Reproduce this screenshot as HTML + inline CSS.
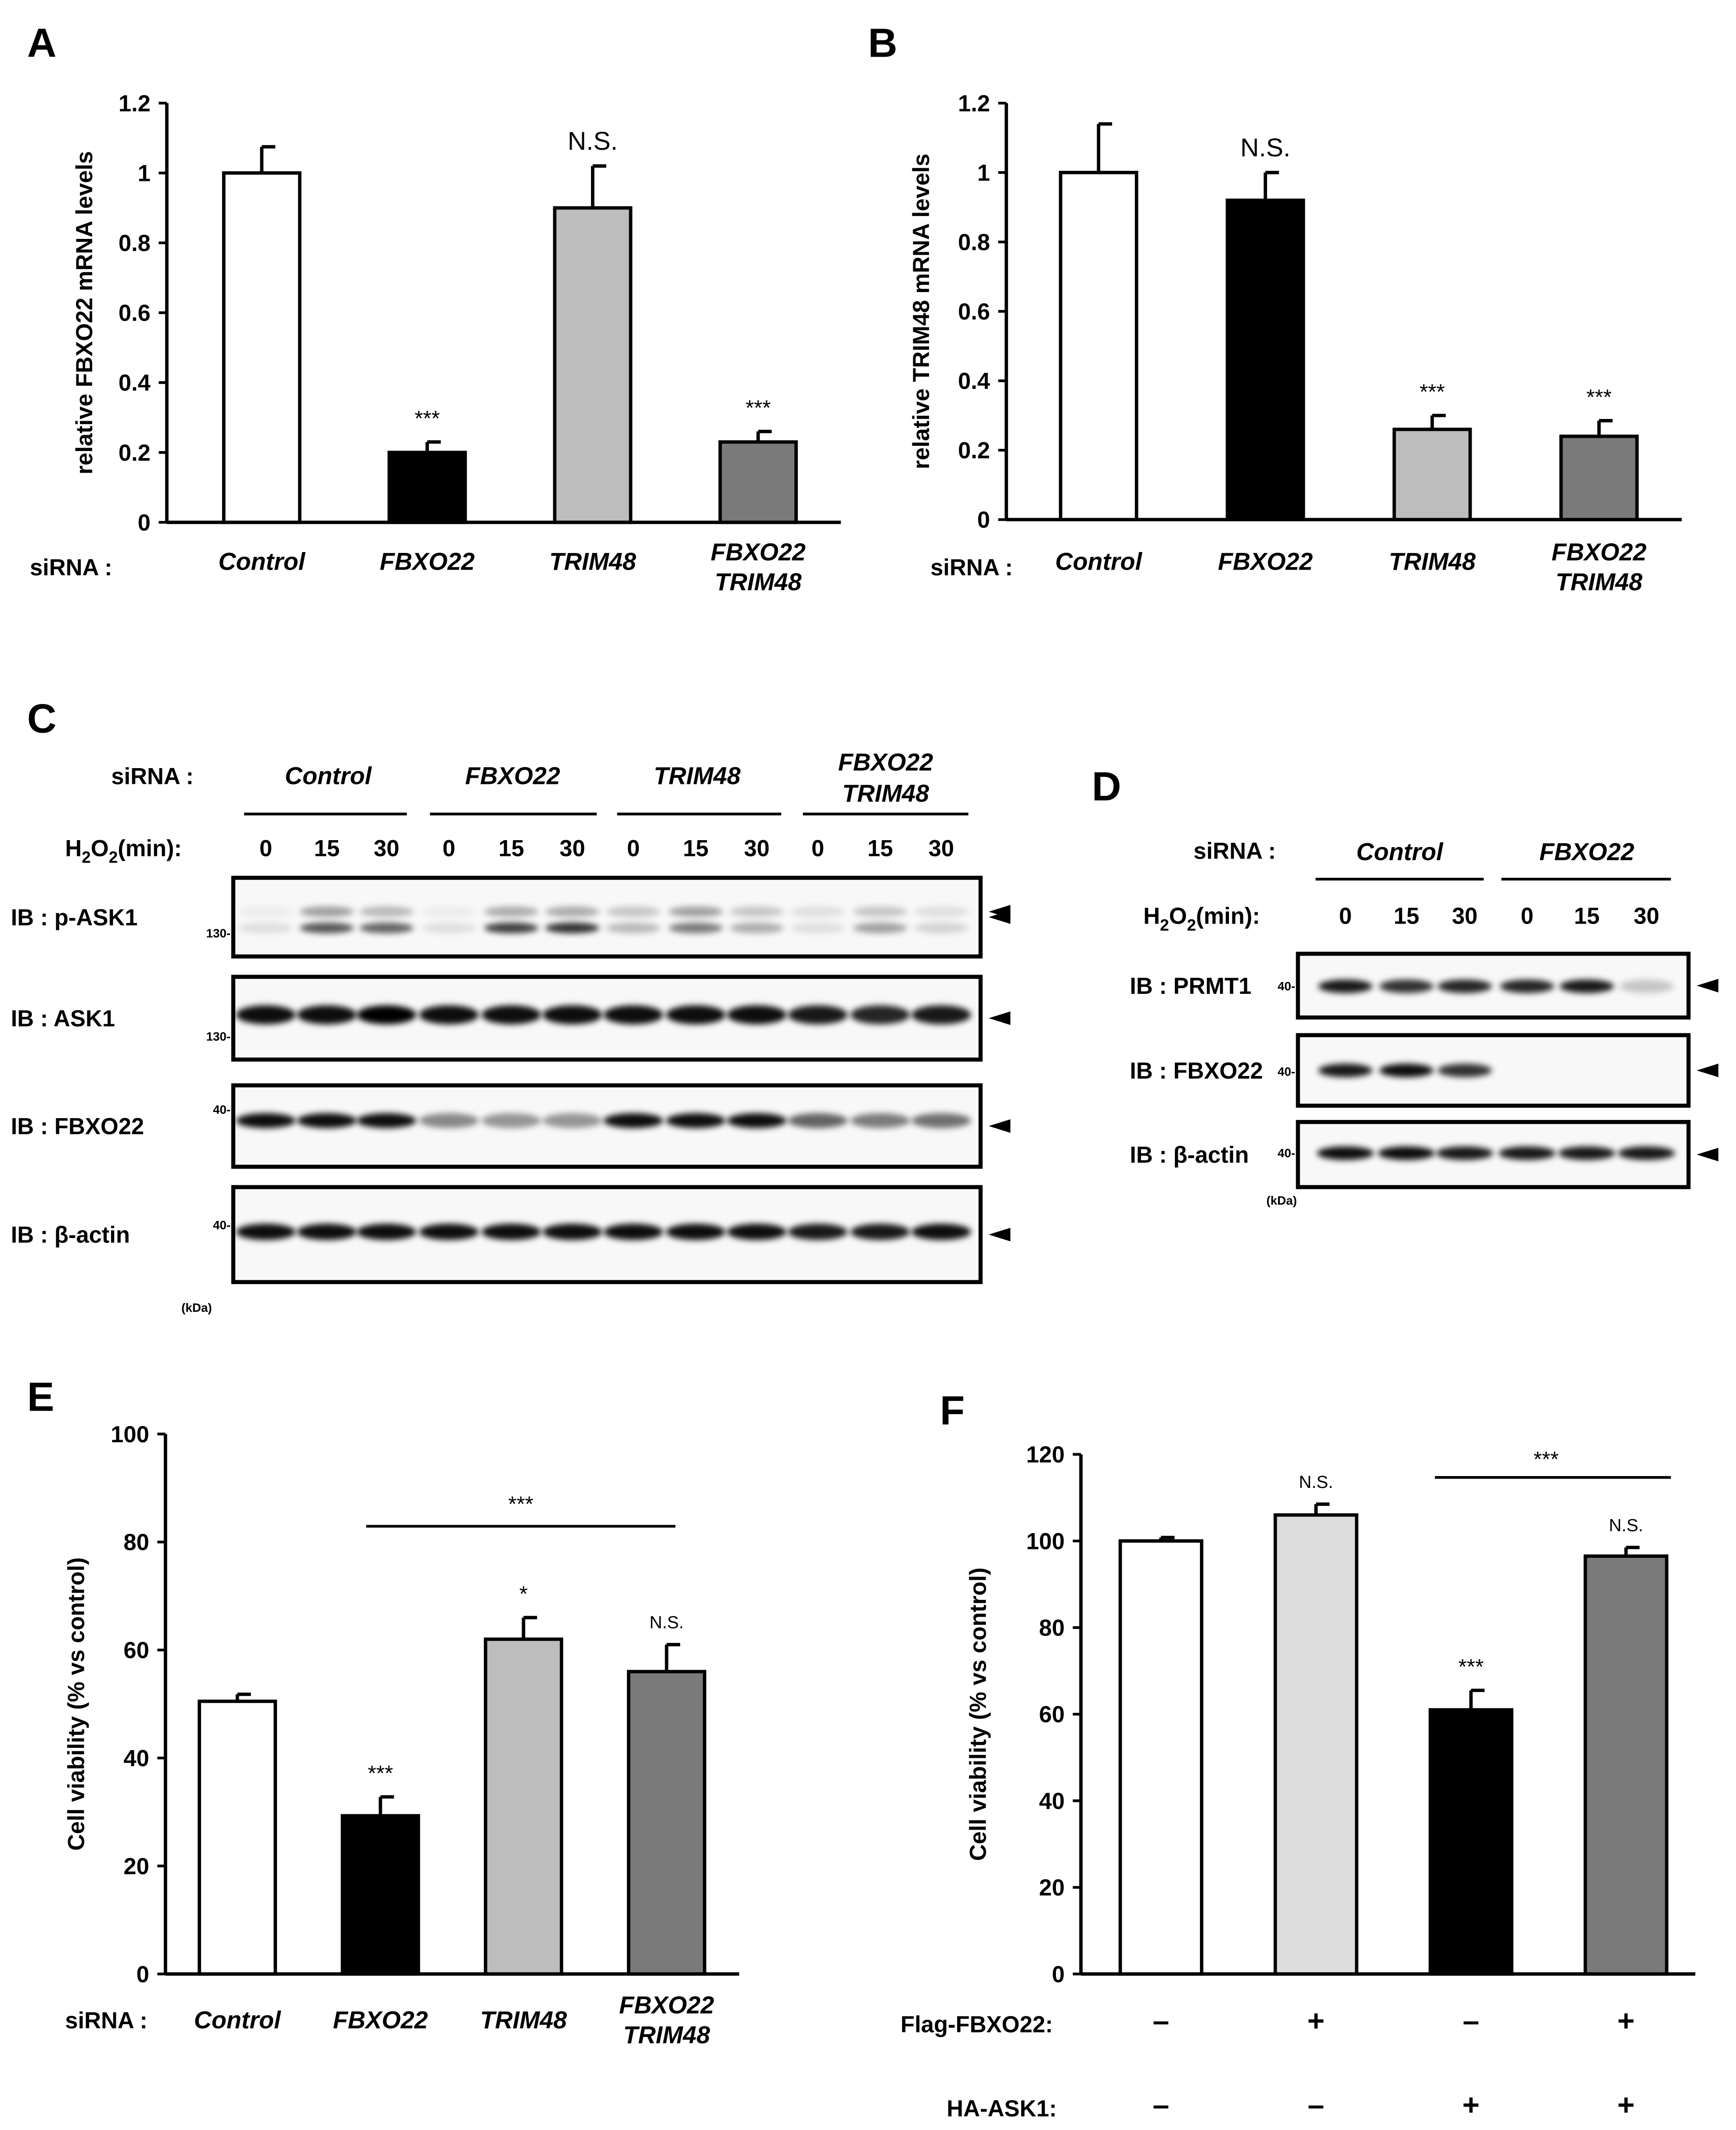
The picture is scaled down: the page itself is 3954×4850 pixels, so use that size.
<!DOCTYPE html>
<html><head><meta charset="utf-8">
<style>
html,body{margin:0;padding:0;background:#fff;}
svg{display:block;}
text{font-family:"Liberation Sans",Arial,sans-serif;}
</style></head>
<body>
<svg id="fig" width="3954" height="4850" viewBox="0 0 1280 1570" preserveAspectRatio="none" xmlns="http://www.w3.org/2000/svg">
<defs>
<filter id="blur" x="-50%" y="-50%" width="200%" height="200%"><feGaussianBlur stdDeviation="2.2"/></filter>
</defs>
</svg>
<script>
// ---- Chart data ----
const catsA = ["Control","FBXO22","TRIM48","FBXO22\nTRIM48"];
const valsA = [1.0, 0.2, 0.9, 0.23];
const errA = [0.075, 0.03, 0.12, 0.03];
const sigA = ["", "***", "N.S.", "***"];
const ticksA = [0,0.2,0.4,0.6,0.8,1,1.2];

const catsB = ["Control","FBXO22","TRIM48","FBXO22\nTRIM48"];
const valsB = [1.0, 0.92, 0.26, 0.24];
const errB = [0.14, 0.08, 0.04, 0.045];
const sigB = ["", "N.S.", "***", "***"];
const ticksB = [0,0.2,0.4,0.6,0.8,1,1.2];

const catsE = ["Control","FBXO22","TRIM48","FBXO22\nTRIM48"];
const valsE = [50.5, 29.3, 62, 56];
const errE = [1.3, 3.5, 4, 5];
const sigE = ["", "***", "*", "N.S."];
const ticksE = [0,20,40,60,80,100];

const flagF = ["–","+","–","+"];
const haF = ["–","–","+","+"];
const valsF = [100, 106, 61, 96.5];
const errF = [0.8, 2.5, 4.5, 2];
const sigF = ["", "N.S.", "***", "N.S."];
const ticksF = [0,20,40,60,80,100,120];

const fills = ["#ffffff","#000000","#bdbdbd","#7a7a7a"];
const fillsF = ["#ffffff","#dcdcdc","#000000","#7a7a7a"];

const NS = "http://www.w3.org/2000/svg";
const svg = document.getElementById("fig");
function mk(tag, attrs, parent){
  const e = document.createElementNS(NS, tag);
  for (const k in attrs) e.setAttribute(k, attrs[k]);
  (parent||svg).appendChild(e);
  return e;
}
function txt(x,y,s,size,opts,parent){
  const t = mk("text",{x:x,y:y,"font-size":size,"text-anchor":(opts&&opts.anchor)||"middle","font-weight":(opts&&opts.weight)||"bold","font-style":(opts&&opts.style)||"normal",fill:"#000"},parent);
  t.textContent = s;
  return t;
}

function barChart(cfg){
  const g = mk("g",{});
  
  
  const y = v => cfg.y0 - (v - cfg.min) / (cfg.max - cfg.min) * (cfg.y0 - cfg.y1);
  const xc = i => cfg.x0c + i * cfg.dx;
  const ya = mk("line",{x1:cfg.ax,y1:cfg.y1,x2:cfg.ax,y2:cfg.y0,stroke:"#000","stroke-width":2.5},g);
  
  
  const xa = mk("line",{x1:cfg.ax,y1:cfg.y0,x2:cfg.axEnd,y2:cfg.y0,stroke:"#000","stroke-width":2.5},g);
  
  
  cfg.ticks.forEach(t=>{
    mk("line",{x1:cfg.ax-6,y1:y(t),x2:cfg.ax,y2:y(t),stroke:"#000","stroke-width":2},g);
    const tl = txt(cfg.ax-12,y(t)+6,String(t),17,{anchor:"end"},g);
    
    
  });
  const yt = txt(0,0,cfg.ytitle,17,{},g);
  yt.setAttribute("transform","translate("+cfg.ytx+","+((cfg.y0+cfg.y1)/2)+") rotate(-90)");
  
  
  cfg.vals.forEach((v,i)=>{
    const x = xc(i);
    const eTop = y(v + cfg.err[i]);
    const el = mk("line",{x1:x,y1:eTop,x2:x,y2:y(v),stroke:"#000","stroke-width":2.5},g);
    
    
    mk("line",{x1:x,y1:eTop,x2:x+cfg.capW,y2:eTop,stroke:"#000","stroke-width":2.5},g);
    const r = mk("rect",{x:x-cfg.bw/2,y:y(v),width:cfg.bw,height:cfg.y0-y(v),fill:cfg.fills[i],stroke:"#000","stroke-width":2.5},g);
    
    
    if (cfg.sig[i]) {
      const st = txt(x, eTop - 12, cfg.sig[i], cfg.sig[i]==="N.S."?cfg.nsSize:16, {weight:"normal"}, g);
      
      
    }
  });
  return {g:g,y:y,xc:xc};
}

[["A",20,42],["B",640,42],["C",20,540],["D",805,590],["E",20,1040],["F",693,1050]].forEach(p=>{
  const t = txt(p[1],p[2],p[0],30,{anchor:"start"});
  
  
});

const A = barChart({name:"chart-a",min:0,max:1.2,y0:385,y1:76,ax:123,axEnd:620,x0c:193,dx:122,bw:56,capW:10,
  vals:valsA,err:errA,sig:sigA,ticks:ticksA,fills:fills,ytitle:"relative FBXO22 mRNA levels",ytx:68,nsSize:19});
txt(22,424,"siRNA :",17,{anchor:"start"});
catsA.forEach((c,i)=>{
  const lines = c.split("\n");
  lines.forEach((l,j)=>{
    const t = txt(A.xc(i), (lines.length>1?413:420)+j*22, l, 18, {style:"italic"});
    
    
  });
});

const B = barChart({name:"chart-b",min:0,max:1.2,y0:383,y1:76,ax:742,axEnd:1240,x0c:810,dx:123,bw:56,capW:10,
  vals:valsB,err:errB,sig:sigB,ticks:ticksB,fills:fills,ytitle:"relative TRIM48 mRNA levels",ytx:685,nsSize:19});
txt(686,424,"siRNA :",17,{anchor:"start"});
catsB.forEach((c,i)=>{
  const lines = c.split("\n");
  lines.forEach((l,j)=>{
    const t = txt(B.xc(i), (lines.length>1?413:420)+j*22, l, 18, {style:"italic"});
    
    
  });
});

const E = barChart({name:"chart-e",min:0,max:100,y0:1455,y1:1057,ax:122,axEnd:545,x0c:175,dx:105.5,bw:56,capW:10,
  vals:valsE,err:errE,sig:sigE,ticks:ticksE,fills:fills,ytitle:"Cell viability (% vs control)",ytx:62,nsSize:13});
mk("line",{x1:270,y1:1125,x2:498,y2:1125,stroke:"#000","stroke-width":2});
txt(384,1114,"***",16,{weight:"normal"});
txt(48,1495,"siRNA :",17,{anchor:"start"});
catsE.forEach((c,i)=>{
  const lines = c.split("\n");
  lines.forEach((l,j)=>{
    const t = txt(E.xc(i), (lines.length>1?1484:1495)+j*22, l, 18, {style:"italic"});
    
    
  });
});

const F = barChart({name:"chart-f",min:0,max:120,y0:1455,y1:1072,ax:797,axEnd:1250,x0c:856,dx:114.3,bw:60,capW:10,
  vals:valsF,err:errF,sig:sigF,ticks:ticksF,fills:fillsF,ytitle:"Cell viability (% vs control)",ytx:727,nsSize:13});
mk("line",{x1:1058,y1:1089,x2:1232,y2:1089,stroke:"#000","stroke-width":2});
txt(1140,1081,"***",16,{weight:"normal"});
txt(664,1498,"Flag-FBXO22:",17,{anchor:"start"});
txt(698,1560,"HA-ASK1:",17,{anchor:"start"});
flagF.forEach((s,i)=>{ txt(F.xc(i),1497,s,22,{}); });
haF.forEach((s,i)=>{ txt(F.xc(i),1559,s,22,{}); });

// ---- Western blots ----
function blot(name, x, y, w, h, lanes, bands, label, labelX, mw, mwY){
  const g = mk("g",{});
  
  
  mk("rect",{x:x,y:y,width:w,height:h,fill:"#f8f8f8",stroke:"#000","stroke-width":3},g);
  bands.forEach(b=>{
    lanes.forEach((lx,i)=>{
      const a = b.int[i];
      if (a<=0.02) return;
      const e = mk("ellipse",{cx:lx,cy:b.y,rx:b.rx,ry:b.ry,fill:"#000","fill-opacity":a,filter:"url(#blur)"},g);
      
      
    });
  });
  const lb = txt(labelX, y+h/2+6, label, 17, {anchor:"start"});
  
  
  if (mw) txt(x-2, mwY, mw+"-", 9, {anchor:"end"});
  mk("polygon",{points:(x+w+6)+","+(y+h/2)+" "+(x+w+22)+","+(y+h/2-5)+" "+(x+w+22)+","+(y+h/2+5)});
  return g;
}
const lanesC = [196,241,285,331,377,422,467,513,558,603,649,694];
txt(82,578,"siRNA :",17,{anchor:"start"});
[["Control",242],["FBXO22",378],["TRIM48",514]].forEach(c=>txt(c[1],578,c[0],18,{style:"italic"}));
txt(653,568,"FBXO22",18,{style:"italic"}); txt(653,591,"TRIM48",18,{style:"italic"});
[[180,300],[317,440],[455,576],[592,714]].forEach(s=>mk("line",{x1:s[0],y1:600,x2:s[1],y2:600,stroke:"#000","stroke-width":2}));
const h2c = txt(48,631,"",17,{anchor:"start"});
h2c.innerHTML = 'H<tspan font-size="12" dy="5">2</tspan><tspan dy="-5">O</tspan><tspan font-size="12" dy="5">2</tspan><tspan dy="-5">(min):</tspan>';
const tpts = ["0","15","30"];
lanesC.forEach((lx,i)=>txt(lx,631,tpts[i%3],17,{}));
blot("blot-p-ask1",172,647,551,58,lanesC,[
  {y:684,rx:20,ry:4,int:[0.1,0.65,0.6,0.1,0.75,0.8,0.25,0.5,0.3,0.1,0.35,0.15]},
  {y:672,rx:20,ry:4,int:[0.05,0.35,0.25,0.05,0.3,0.3,0.2,0.35,0.2,0.1,0.2,0.1]}],
  "IB : p-ASK1",8,"130",691);
mk("polygon",{points:"729,672 745,667 745,677"});
blot("blot-ask1",172,720,551,61,lanesC,[{y:748,rx:22,ry:7,int:[0.95,0.95,1,0.95,0.95,0.95,0.95,0.95,0.95,0.9,0.85,0.9]}],"IB : ASK1",8,"130",767);
blot("blot-fbxo22",172,800,551,60,lanesC,[{y:826,rx:22,ry:5.5,int:[0.95,0.95,0.95,0.45,0.4,0.4,0.95,0.95,0.95,0.6,0.5,0.55]}],"IB : FBXO22",8,"40",821);
blot("blot-actin",172,875,551,70,lanesC,[{y:908,rx:22,ry:6,int:[0.95,0.95,0.95,0.95,0.95,0.95,0.95,0.95,0.95,0.9,0.9,0.95]}],"IB : β-actin",8,"40",906);
txt(145,967,"(kDa)",9,{anchor:"middle"});

const lanesD = [992,1037,1080,1126,1170,1214];
txt(880,633,"siRNA :",17,{anchor:"start"});
txt(1032,634,"Control",18,{style:"italic"}); txt(1170,634,"FBXO22",18,{style:"italic"});
mk("line",{x1:970,y1:648,x2:1094,y2:648,stroke:"#000","stroke-width":2});
mk("line",{x1:1107,y1:648,x2:1232,y2:648,stroke:"#000","stroke-width":2});
const h2d = txt(843,681,"",17,{anchor:"start"});
h2d.innerHTML = 'H<tspan font-size="12" dy="5">2</tspan><tspan dy="-5">O</tspan><tspan font-size="12" dy="5">2</tspan><tspan dy="-5">(min):</tspan>';
lanesD.forEach((lx,i)=>txt(lx,681,tpts[i%3],17,{}));
blot("blot-prmt1",957,703,288,47,lanesD,[{y:727,rx:20,ry:5,int:[0.9,0.8,0.85,0.85,0.9,0.2]}],"IB : PRMT1",833,"40",730);
blot("blot-fbxo22-d",957,763,288,52,lanesD,[{y:789,rx:20,ry:5,int:[0.9,0.95,0.8,0,0,0]}],"IB : FBXO22",833,"40",793);
blot("blot-actin-d",957,827,288,48,lanesD,[{y:850,rx:21,ry:5,int:[0.95,0.95,0.9,0.9,0.9,0.9]}],"IB : β-actin",833,"40",853);
txt(945,888,"(kDa)",9,{anchor:"middle"});
</script>
</body></html>
